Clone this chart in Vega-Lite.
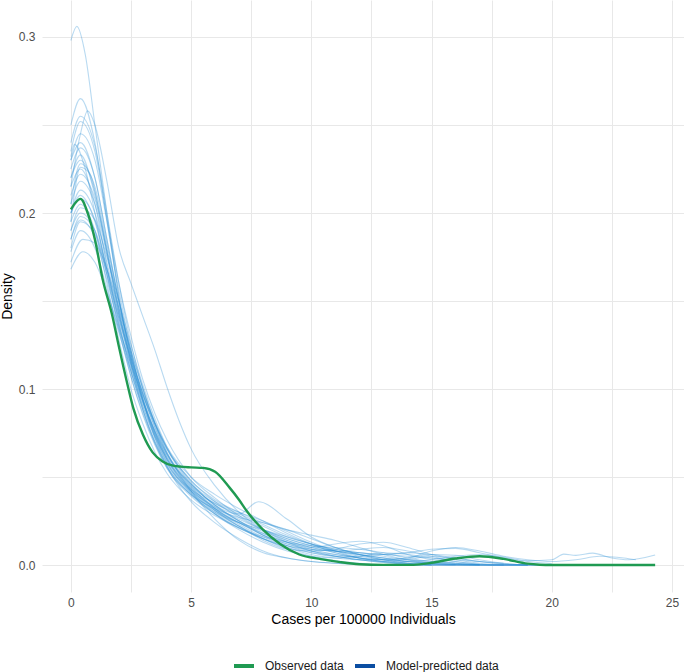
{
"$schema": "https://vega.github.io/schema/vega-lite/v6.json",
"width": 642, "height": 592,
"autosize": {"type": "none"},
"padding": {"left": 42, "top": 0, "right": 0, "bottom": 80},
"background": "white",
"config": {"font": "Liberation Sans", "view": {"stroke": null},
 "axis": {"domain": false, "ticks": false, "gridColor": "#e8e8e8", "gridWidth": 1, "labelColor": "#4d4d4d", "labelFontSize": 12, "titleFontSize": 14, "titleFontWeight": "normal", "titleColor": "#000000", "labelOverlap": false, "labelFlush": false}},
"datasets": {
"yrep": [
{"s":1,"x":0,"y":0.298},{"s":1,"x":0.25,"y":0.306},{"s":1,"x":0.6,"y":0.29},{"s":1,"x":1,"y":0.25},{"s":1,"x":1.5,"y":0.2},{"s":1,"x":2,"y":0.152},{"s":1,"x":2.5,"y":0.115},{"s":1,"x":3,"y":0.088},{"s":1,"x":3.5,"y":0.069},{"s":1,"x":4,"y":0.055},{"s":1,"x":5,"y":0.039},{"s":1,"x":6,"y":0.029},{"s":1,"x":7,"y":0.021},{"s":1,"x":8,"y":0.015},{"s":1,"x":9,"y":0.01},{"s":1,"x":10,"y":0.007},{"s":1,"x":11,"y":0.005},{"s":1,"x":12,"y":0.003},{"s":1,"x":13,"y":0.0015},{"s":1,"x":14,"y":0.0005},{"s":1,"x":15,"y":0.0001},
{"s":2,"x":0,"y":0.25},{"s":2,"x":0.4,"y":0.265},{"s":2,"x":1,"y":0.24},{"s":2,"x":1.5,"y":0.196},{"s":2,"x":2,"y":0.153},{"s":2,"x":2.5,"y":0.118},{"s":2,"x":3,"y":0.093},{"s":2,"x":3.5,"y":0.073},{"s":2,"x":4,"y":0.058},{"s":2,"x":5,"y":0.041},{"s":2,"x":6,"y":0.031},{"s":2,"x":7,"y":0.024},{"s":2,"x":8,"y":0.017},{"s":2,"x":9,"y":0.012},{"s":2,"x":10,"y":0.009},{"s":2,"x":11,"y":0.008},{"s":2,"x":12,"y":0.007},{"s":2,"x":13,"y":0.005},{"s":2,"x":14,"y":0.003},{"s":2,"x":15,"y":0.0015},{"s":2,"x":16,"y":0.0005},{"s":2,"x":17,"y":0.0001},
{"s":3,"x":0,"y":0.215},{"s":3,"x":0.4,"y":0.245},{"s":3,"x":0.7,"y":0.258},{"s":3,"x":1,"y":0.25},{"s":3,"x":1.5,"y":0.218},{"s":3,"x":2,"y":0.18},{"s":3,"x":2.5,"y":0.16},{"s":3,"x":3,"y":0.141},{"s":3,"x":3.5,"y":0.122},{"s":3,"x":4,"y":0.101},{"s":3,"x":4.5,"y":0.082},{"s":3,"x":5,"y":0.066},{"s":3,"x":6,"y":0.045},{"s":3,"x":7,"y":0.03},{"s":3,"x":8,"y":0.02},{"s":3,"x":9,"y":0.013},{"s":3,"x":10,"y":0.008},{"s":3,"x":11,"y":0.005},{"s":3,"x":12,"y":0.003},{"s":3,"x":13,"y":0.0015},{"s":3,"x":14,"y":0.0005},
{"s":4,"x":0,"y":0.235},{"s":4,"x":0.4,"y":0.252},{"s":4,"x":1,"y":0.235},{"s":4,"x":1.5,"y":0.197},{"s":4,"x":2,"y":0.16},{"s":4,"x":2.5,"y":0.13},{"s":4,"x":3,"y":0.105},{"s":4,"x":3.5,"y":0.086},{"s":4,"x":4,"y":0.071},{"s":4,"x":5,"y":0.05},{"s":4,"x":6,"y":0.038},{"s":4,"x":7,"y":0.028},{"s":4,"x":8,"y":0.02},{"s":4,"x":9,"y":0.014},{"s":4,"x":10,"y":0.01},{"s":4,"x":11,"y":0.008},{"s":4,"x":12,"y":0.006},{"s":4,"x":13,"y":0.004},{"s":4,"x":14,"y":0.003},{"s":4,"x":15,"y":0.002},{"s":4,"x":16,"y":0.001},{"s":4,"x":17,"y":0.0003},
{"s":5,"x":0,"y":0.23},{"s":5,"x":0.4,"y":0.24},{"s":5,"x":1,"y":0.22},{"s":5,"x":1.5,"y":0.185},{"s":5,"x":2,"y":0.15},{"s":5,"x":2.5,"y":0.122},{"s":5,"x":3,"y":0.1},{"s":5,"x":3.5,"y":0.081},{"s":5,"x":4,"y":0.066},{"s":5,"x":5,"y":0.046},{"s":5,"x":6,"y":0.034},{"s":5,"x":7,"y":0.025},{"s":5,"x":8,"y":0.018},{"s":5,"x":9,"y":0.013},{"s":5,"x":10,"y":0.01},{"s":5,"x":11,"y":0.012},{"s":5,"x":12,"y":0.0135},{"s":5,"x":13,"y":0.011},{"s":5,"x":14,"y":0.006},{"s":5,"x":15,"y":0.003},{"s":5,"x":16,"y":0.001},{"s":5,"x":17,"y":0.0002},{"s":5,"x":18,"y":0},
{"s":6,"x":0,"y":0.22},{"s":6,"x":0.4,"y":0.233},{"s":6,"x":1,"y":0.21},{"s":6,"x":1.5,"y":0.178},{"s":6,"x":2,"y":0.145},{"s":6,"x":2.5,"y":0.115},{"s":6,"x":3,"y":0.092},{"s":6,"x":3.5,"y":0.074},{"s":6,"x":4,"y":0.06},{"s":6,"x":5,"y":0.042},{"s":6,"x":6,"y":0.03},{"s":6,"x":7,"y":0.022},{"s":6,"x":8,"y":0.015},{"s":6,"x":9,"y":0.009},{"s":6,"x":10,"y":0.005},{"s":6,"x":11,"y":0.0025},{"s":6,"x":12,"y":0.001},{"s":6,"x":13,"y":0.0002},{"s":6,"x":14,"y":0},{"s":6,"x":16,"y":0},{"s":6,"x":18,"y":0},{"s":6,"x":20,"y":0.0002},
{"s":7,"x":0,"y":0.205},{"s":7,"x":0.4,"y":0.228},{"s":7,"x":1,"y":0.215},{"s":7,"x":1.5,"y":0.182},{"s":7,"x":2,"y":0.15},{"s":7,"x":2.5,"y":0.12},{"s":7,"x":3,"y":0.097},{"s":7,"x":3.5,"y":0.078},{"s":7,"x":4,"y":0.063},{"s":7,"x":5,"y":0.045},{"s":7,"x":6,"y":0.035},{"s":7,"x":7,"y":0.028},{"s":7,"x":8,"y":0.022},{"s":7,"x":9,"y":0.016},{"s":7,"x":10,"y":0.012},{"s":7,"x":11,"y":0.009},{"s":7,"x":12,"y":0.007},{"s":7,"x":13,"y":0.006},{"s":7,"x":14,"y":0.007},{"s":7,"x":15,"y":0.009},{"s":7,"x":16,"y":0.0095},{"s":7,"x":17,"y":0.007},{"s":7,"x":18,"y":0.004},{"s":7,"x":19,"y":0.002},{"s":7,"x":20,"y":0.0008},
{"s":8,"x":0,"y":0.215},{"s":8,"x":0.4,"y":0.225},{"s":8,"x":1,"y":0.205},{"s":8,"x":1.5,"y":0.17},{"s":8,"x":2,"y":0.138},{"s":8,"x":2.5,"y":0.11},{"s":8,"x":3,"y":0.088},{"s":8,"x":3.5,"y":0.07},{"s":8,"x":4,"y":0.056},{"s":8,"x":5,"y":0.04},{"s":8,"x":6,"y":0.03},{"s":8,"x":7,"y":0.024},{"s":8,"x":8,"y":0.02},{"s":8,"x":9,"y":0.016},{"s":8,"x":10,"y":0.012},{"s":8,"x":11,"y":0.008},{"s":8,"x":12,"y":0.005},{"s":8,"x":13,"y":0.003},{"s":8,"x":14,"y":0.002},{"s":8,"x":15,"y":0.003},{"s":8,"x":16,"y":0.005},{"s":8,"x":17,"y":0.006},{"s":8,"x":18,"y":0.0045},{"s":8,"x":19,"y":0.0025},{"s":8,"x":20,"y":0.003},{"s":8,"x":20.5,"y":0.0062},{"s":8,"x":21,"y":0.0055},{"s":8,"x":21.7,"y":0.0068},{"s":8,"x":22.5,"y":0.004},{"s":8,"x":23.2,"y":0.003},{"s":8,"x":24.3,"y":0.0057},
{"s":9,"x":0,"y":0.2},{"s":9,"x":0.4,"y":0.21},{"s":9,"x":1,"y":0.195},{"s":9,"x":1.5,"y":0.168},{"s":9,"x":2,"y":0.14},{"s":9,"x":2.5,"y":0.114},{"s":9,"x":3,"y":0.093},{"s":9,"x":3.5,"y":0.075},{"s":9,"x":4,"y":0.061},{"s":9,"x":5,"y":0.044},{"s":9,"x":6,"y":0.033},{"s":9,"x":7,"y":0.025},{"s":9,"x":8,"y":0.019},{"s":9,"x":9,"y":0.014},{"s":9,"x":10,"y":0.01},{"s":9,"x":11,"y":0.007},{"s":9,"x":12,"y":0.004},{"s":9,"x":13,"y":0.002},{"s":9,"x":14,"y":0.001},{"s":9,"x":15,"y":0.0005},{"s":9,"x":16,"y":0.0002},{"s":9,"x":17,"y":0},{"s":9,"x":19,"y":0},
{"s":10,"x":0,"y":0.19},{"s":10,"x":0.4,"y":0.2},{"s":10,"x":1,"y":0.19},{"s":10,"x":1.5,"y":0.165},{"s":10,"x":2,"y":0.135},{"s":10,"x":2.5,"y":0.107},{"s":10,"x":3,"y":0.085},{"s":10,"x":3.5,"y":0.068},{"s":10,"x":4,"y":0.055},{"s":10,"x":5,"y":0.04},{"s":10,"x":6,"y":0.032},{"s":10,"x":7,"y":0.027},{"s":10,"x":8,"y":0.024},{"s":10,"x":9,"y":0.02},{"s":10,"x":10,"y":0.015},{"s":10,"x":11,"y":0.01},{"s":10,"x":12,"y":0.006},{"s":10,"x":13,"y":0.003},{"s":10,"x":14,"y":0.001},{"s":10,"x":15,"y":0},{"s":10,"x":19.5,"y":0},
{"s":11,"x":0,"y":0.185},{"s":11,"x":0.4,"y":0.196},{"s":11,"x":1,"y":0.186},{"s":11,"x":1.5,"y":0.162},{"s":11,"x":2,"y":0.136},{"s":11,"x":2.5,"y":0.112},{"s":11,"x":3,"y":0.092},{"s":11,"x":3.5,"y":0.076},{"s":11,"x":4,"y":0.063},{"s":11,"x":5,"y":0.046},{"s":11,"x":6,"y":0.034},{"s":11,"x":7,"y":0.025},{"s":11,"x":8,"y":0.017},{"s":11,"x":9,"y":0.011},{"s":11,"x":10,"y":0.007},{"s":11,"x":11,"y":0.005},{"s":11,"x":12,"y":0.005},{"s":11,"x":13,"y":0.006},{"s":11,"x":14,"y":0.007},{"s":11,"x":15,"y":0.006},{"s":11,"x":16,"y":0.004},{"s":11,"x":17,"y":0.002},{"s":11,"x":18,"y":0.0008},{"s":11,"x":19,"y":0},
{"s":12,"x":0,"y":0.178},{"s":12,"x":0.4,"y":0.19},{"s":12,"x":1,"y":0.18},{"s":12,"x":1.5,"y":0.157},{"s":12,"x":2,"y":0.132},{"s":12,"x":2.5,"y":0.11},{"s":12,"x":3,"y":0.09},{"s":12,"x":3.5,"y":0.073},{"s":12,"x":4,"y":0.06},{"s":12,"x":5,"y":0.043},{"s":12,"x":6,"y":0.032},{"s":12,"x":7,"y":0.024},{"s":12,"x":8,"y":0.018},{"s":12,"x":9,"y":0.013},{"s":12,"x":10,"y":0.009},{"s":12,"x":11,"y":0.006},{"s":12,"x":12,"y":0.004},{"s":12,"x":13,"y":0.003},{"s":12,"x":14,"y":0.002},{"s":12,"x":15,"y":0.001},{"s":12,"x":16,"y":0.0003},
{"s":13,"x":0,"y":0.168},{"s":13,"x":0.5,"y":0.178},{"s":13,"x":1,"y":0.172},{"s":13,"x":1.5,"y":0.155},{"s":13,"x":2,"y":0.134},{"s":13,"x":2.5,"y":0.114},{"s":13,"x":3,"y":0.096},{"s":13,"x":3.5,"y":0.08},{"s":13,"x":4,"y":0.066},{"s":13,"x":5,"y":0.048},{"s":13,"x":6,"y":0.036},{"s":13,"x":7,"y":0.027},{"s":13,"x":8,"y":0.02},{"s":13,"x":9,"y":0.015},{"s":13,"x":10,"y":0.011},{"s":13,"x":11,"y":0.008},{"s":13,"x":12,"y":0.006},{"s":13,"x":13,"y":0.004},{"s":13,"x":14,"y":0.002},{"s":13,"x":15,"y":0.001},
{"s":14,"x":0,"y":0.195},{"s":14,"x":0.4,"y":0.205},{"s":14,"x":1,"y":0.19},{"s":14,"x":1.5,"y":0.16},{"s":14,"x":2,"y":0.128},{"s":14,"x":2.5,"y":0.1},{"s":14,"x":3,"y":0.08},{"s":14,"x":3.5,"y":0.064},{"s":14,"x":4,"y":0.052},{"s":14,"x":5,"y":0.037},{"s":14,"x":6,"y":0.028},{"s":14,"x":7,"y":0.021},{"s":14,"x":8,"y":0.016},{"s":14,"x":9,"y":0.013},{"s":14,"x":10,"y":0.011},{"s":14,"x":11,"y":0.01},{"s":14,"x":12,"y":0.009},{"s":14,"x":13,"y":0.007},{"s":14,"x":14,"y":0.004},{"s":14,"x":15,"y":0.002},{"s":14,"x":16,"y":0.001},{"s":14,"x":17,"y":0},
{"s":15,"x":0,"y":0.225},{"s":15,"x":0.4,"y":0.237},{"s":15,"x":1,"y":0.22},{"s":15,"x":1.5,"y":0.185},{"s":15,"x":2,"y":0.15},{"s":15,"x":2.5,"y":0.12},{"s":15,"x":3,"y":0.095},{"s":15,"x":3.5,"y":0.075},{"s":15,"x":4,"y":0.06},{"s":15,"x":5,"y":0.042},{"s":15,"x":6,"y":0.031},{"s":15,"x":7,"y":0.022},{"s":15,"x":8,"y":0.015},{"s":15,"x":9,"y":0.01},{"s":15,"x":10,"y":0.006},{"s":15,"x":11,"y":0.004},{"s":15,"x":12,"y":0.003},{"s":15,"x":13,"y":0.003},{"s":15,"x":14,"y":0.004},{"s":15,"x":15,"y":0.006},{"s":15,"x":16,"y":0.0055},{"s":15,"x":17,"y":0.003},{"s":15,"x":18,"y":0.001},{"s":15,"x":19,"y":0},
{"s":16,"x":0,"y":0.21},{"s":16,"x":0.4,"y":0.222},{"s":16,"x":1,"y":0.208},{"s":16,"x":1.5,"y":0.178},{"s":16,"x":2,"y":0.146},{"s":16,"x":2.5,"y":0.118},{"s":16,"x":3,"y":0.094},{"s":16,"x":3.5,"y":0.076},{"s":16,"x":4,"y":0.062},{"s":16,"x":5,"y":0.046},{"s":16,"x":6,"y":0.036},{"s":16,"x":7,"y":0.03},{"s":16,"x":8,"y":0.025},{"s":16,"x":9,"y":0.019},{"s":16,"x":10,"y":0.013},{"s":16,"x":11,"y":0.008},{"s":16,"x":12,"y":0.004},{"s":16,"x":13,"y":0.002},{"s":16,"x":14,"y":0.0005},{"s":16,"x":15,"y":0},{"s":16,"x":16,"y":0},
{"s":17,"x":0,"y":0.24},{"s":17,"x":0.4,"y":0.255},{"s":17,"x":1,"y":0.238},{"s":17,"x":1.5,"y":0.2},{"s":17,"x":2,"y":0.16},{"s":17,"x":2.5,"y":0.126},{"s":17,"x":3,"y":0.1},{"s":17,"x":3.5,"y":0.08},{"s":17,"x":4,"y":0.064},{"s":17,"x":5,"y":0.045},{"s":17,"x":6,"y":0.032},{"s":17,"x":7,"y":0.023},{"s":17,"x":8,"y":0.016},{"s":17,"x":9,"y":0.011},{"s":17,"x":10,"y":0.008},{"s":17,"x":11,"y":0.006},{"s":17,"x":12,"y":0.004},{"s":17,"x":13,"y":0.002},{"s":17,"x":14,"y":0.001},{"s":17,"x":15,"y":0.0005},{"s":17,"x":16,"y":0},{"s":17,"x":20,"y":0},
{"s":18,"x":0,"y":0.18},{"s":18,"x":0.4,"y":0.195},{"s":18,"x":1,"y":0.188},{"s":18,"x":1.5,"y":0.165},{"s":18,"x":2,"y":0.14},{"s":18,"x":2.5,"y":0.117},{"s":18,"x":3,"y":0.097},{"s":18,"x":3.5,"y":0.08},{"s":18,"x":4,"y":0.066},{"s":18,"x":5,"y":0.047},{"s":18,"x":6,"y":0.034},{"s":18,"x":7,"y":0.029},{"s":18,"x":7.8,"y":0.036},{"s":18,"x":9,"y":0.026},{"s":18,"x":10,"y":0.016},{"s":18,"x":11,"y":0.01},{"s":18,"x":12,"y":0.006},{"s":18,"x":13,"y":0.003},{"s":18,"x":14,"y":0.001},{"s":18,"x":15,"y":0},
{"s":19,"x":0,"y":0.2},{"s":19,"x":0.4,"y":0.213},{"s":19,"x":1,"y":0.2},{"s":19,"x":1.5,"y":0.172},{"s":19,"x":2,"y":0.142},{"s":19,"x":2.5,"y":0.116},{"s":19,"x":3,"y":0.094},{"s":19,"x":3.5,"y":0.076},{"s":19,"x":4,"y":0.061},{"s":19,"x":5,"y":0.043},{"s":19,"x":6,"y":0.031},{"s":19,"x":7,"y":0.022},{"s":19,"x":8,"y":0.014},{"s":19,"x":9,"y":0.009},{"s":19,"x":10,"y":0.008},{"s":19,"x":11,"y":0.009},{"s":19,"x":12,"y":0.012},{"s":19,"x":13,"y":0.013},{"s":19,"x":14,"y":0.01},{"s":19,"x":15,"y":0.006},{"s":19,"x":16,"y":0.003},{"s":19,"x":17,"y":0.001},{"s":19,"x":18,"y":0},
{"s":20,"x":0,"y":0.19},{"s":20,"x":0.4,"y":0.203},{"s":20,"x":1,"y":0.196},{"s":20,"x":1.5,"y":0.175},{"s":20,"x":2,"y":0.15},{"s":20,"x":2.5,"y":0.125},{"s":20,"x":3,"y":0.102},{"s":20,"x":3.5,"y":0.083},{"s":20,"x":4,"y":0.067},{"s":20,"x":5,"y":0.048},{"s":20,"x":6,"y":0.037},{"s":20,"x":7,"y":0.03},{"s":20,"x":8,"y":0.024},{"s":20,"x":9,"y":0.02},{"s":20,"x":10,"y":0.017},{"s":20,"x":11,"y":0.014},{"s":20,"x":12,"y":0.01},{"s":20,"x":13,"y":0.006},{"s":20,"x":14,"y":0.003},{"s":20,"x":15,"y":0.001},{"s":20,"x":16,"y":0.0003},{"s":20,"x":17,"y":0},
{"s":21,"x":0,"y":0.23},{"s":21,"x":0.4,"y":0.245},{"s":21,"x":1,"y":0.23},{"s":21,"x":1.5,"y":0.195},{"s":21,"x":2,"y":0.156},{"s":21,"x":2.5,"y":0.122},{"s":21,"x":3,"y":0.094},{"s":21,"x":3.5,"y":0.072},{"s":21,"x":4,"y":0.056},{"s":21,"x":5,"y":0.036},{"s":21,"x":6,"y":0.024},{"s":21,"x":7,"y":0.015},{"s":21,"x":8,"y":0.008},{"s":21,"x":9,"y":0.004},{"s":21,"x":10,"y":0.002},{"s":21,"x":11,"y":0.001},{"s":21,"x":12,"y":0.0003},{"s":21,"x":13,"y":0},{"s":21,"x":20,"y":0},
{"s":22,"x":0,"y":0.185},{"s":22,"x":0.4,"y":0.198},{"s":22,"x":1,"y":0.19},{"s":22,"x":1.5,"y":0.168},{"s":22,"x":2,"y":0.142},{"s":22,"x":2.5,"y":0.118},{"s":22,"x":3,"y":0.098},{"s":22,"x":3.5,"y":0.081},{"s":22,"x":4,"y":0.067},{"s":22,"x":5,"y":0.05},{"s":22,"x":6,"y":0.04},{"s":22,"x":7,"y":0.032},{"s":22,"x":8,"y":0.025},{"s":22,"x":9,"y":0.018},{"s":22,"x":10,"y":0.012},{"s":22,"x":11,"y":0.007},{"s":22,"x":12,"y":0.004},{"s":22,"x":13,"y":0.003},{"s":22,"x":14,"y":0.004},{"s":22,"x":15,"y":0.008},{"s":22,"x":16,"y":0.01},{"s":22,"x":17,"y":0.008},{"s":22,"x":18,"y":0.005},{"s":22,"x":19,"y":0.003},{"s":22,"x":20,"y":0.002},{"s":22,"x":21,"y":0.003},{"s":22,"x":22,"y":0.005},{"s":22,"x":23,"y":0.004},{"s":22,"x":23.5,"y":0.003},
{"s":23,"x":0,"y":0.205},{"s":23,"x":0.4,"y":0.218},{"s":23,"x":1,"y":0.205},{"s":23,"x":1.5,"y":0.176},{"s":23,"x":2,"y":0.144},{"s":23,"x":2.5,"y":0.116},{"s":23,"x":3,"y":0.093},{"s":23,"x":3.5,"y":0.074},{"s":23,"x":4,"y":0.059},{"s":23,"x":5,"y":0.041},{"s":23,"x":6,"y":0.029},{"s":23,"x":7,"y":0.02},{"s":23,"x":8,"y":0.013},{"s":23,"x":9,"y":0.008},{"s":23,"x":10,"y":0.005},{"s":23,"x":11,"y":0.004},{"s":23,"x":12,"y":0.005},{"s":23,"x":13,"y":0.007},{"s":23,"x":14,"y":0.006},{"s":23,"x":15,"y":0.004},{"s":23,"x":16,"y":0.002},{"s":23,"x":17,"y":0.0005},{"s":23,"x":18,"y":0},{"s":23,"x":19,"y":0},{"s":23,"x":20,"y":0.0002},
{"s":24,"x":0,"y":0.2},{"s":24,"x":0.4,"y":0.208},{"s":24,"x":1,"y":0.196},{"s":24,"x":1.5,"y":0.168},{"s":24,"x":2,"y":0.137},{"s":24,"x":2.5,"y":0.11},{"s":24,"x":3,"y":0.088},{"s":24,"x":3.5,"y":0.07},{"s":24,"x":4,"y":0.057},{"s":24,"x":5,"y":0.042},{"s":24,"x":6,"y":0.033},{"s":24,"x":7,"y":0.026},{"s":24,"x":8,"y":0.02},{"s":24,"x":9,"y":0.015},{"s":24,"x":10,"y":0.011},{"s":24,"x":11,"y":0.008},{"s":24,"x":12,"y":0.006},{"s":24,"x":13,"y":0.004},{"s":24,"x":14,"y":0.002},{"s":24,"x":15,"y":0.001},{"s":24,"x":16,"y":0.0005},{"s":24,"x":17,"y":0.0002},{"s":24,"x":18,"y":0},{"s":24,"x":19,"y":0},
{"s":25,"x":0,"y":0.172},{"s":25,"x":0.5,"y":0.185},{"s":25,"x":1,"y":0.183},{"s":25,"x":1.5,"y":0.168},{"s":25,"x":2,"y":0.146},{"s":25,"x":2.5,"y":0.122},{"s":25,"x":3,"y":0.1},{"s":25,"x":3.5,"y":0.08},{"s":25,"x":4,"y":0.064},{"s":25,"x":5,"y":0.042},{"s":25,"x":6,"y":0.026},{"s":25,"x":7,"y":0.014},{"s":25,"x":8,"y":0.007},{"s":25,"x":9,"y":0.004},{"s":25,"x":10,"y":0.002},{"s":25,"x":11,"y":0.001},{"s":25,"x":12,"y":0.0005},{"s":25,"x":13,"y":0},
{"s":26,"x":0,"y":0.22},{"s":26,"x":0.4,"y":0.23},{"s":26,"x":1,"y":0.212},{"s":26,"x":1.5,"y":0.178},{"s":26,"x":2,"y":0.143},{"s":26,"x":2.5,"y":0.113},{"s":26,"x":3,"y":0.09},{"s":26,"x":3.5,"y":0.072},{"s":26,"x":4,"y":0.058},{"s":26,"x":5,"y":0.043},{"s":26,"x":6,"y":0.035},{"s":26,"x":7,"y":0.029},{"s":26,"x":8,"y":0.023},{"s":26,"x":9,"y":0.017},{"s":26,"x":10,"y":0.012},{"s":26,"x":11,"y":0.009},{"s":26,"x":12,"y":0.007},{"s":26,"x":13,"y":0.006},{"s":26,"x":14,"y":0.005},{"s":26,"x":15,"y":0.004},{"s":26,"x":16,"y":0.003},{"s":26,"x":17,"y":0.002},{"s":26,"x":18,"y":0.001},
{"s":27,"x":0,"y":0.232},{"s":27,"x":0.15,"y":0.239},{"s":27,"x":0.6,"y":0.225},{"s":27,"x":1,"y":0.2},{"s":27,"x":1.5,"y":0.165},{"s":27,"x":2,"y":0.133},{"s":27,"x":2.5,"y":0.107},{"s":27,"x":3,"y":0.086},{"s":27,"x":3.5,"y":0.069},{"s":27,"x":4,"y":0.056},{"s":27,"x":5,"y":0.04},{"s":27,"x":6,"y":0.029},{"s":27,"x":7,"y":0.021},{"s":27,"x":8,"y":0.015},{"s":27,"x":9,"y":0.011},{"s":27,"x":10,"y":0.009},{"s":27,"x":11,"y":0.008},{"s":27,"x":12,"y":0.009},{"s":27,"x":13,"y":0.01},{"s":27,"x":14,"y":0.008},{"s":27,"x":15,"y":0.005},{"s":27,"x":16,"y":0.002},{"s":27,"x":17,"y":0.0005},
{"s":28,"x":0,"y":0.195},{"s":28,"x":0.4,"y":0.226},{"s":28,"x":0.8,"y":0.222},{"s":28,"x":1.2,"y":0.2},{"s":28,"x":1.5,"y":0.18},{"s":28,"x":2,"y":0.148},{"s":28,"x":2.5,"y":0.12},{"s":28,"x":3,"y":0.097},{"s":28,"x":3.5,"y":0.078},{"s":28,"x":4,"y":0.063},{"s":28,"x":5,"y":0.044},{"s":28,"x":6,"y":0.032},{"s":28,"x":7,"y":0.024},{"s":28,"x":8,"y":0.017},{"s":28,"x":9,"y":0.012},{"s":28,"x":10,"y":0.008},{"s":28,"x":11,"y":0.005},{"s":28,"x":12,"y":0.003},{"s":28,"x":13,"y":0.002},{"s":28,"x":14,"y":0.003},{"s":28,"x":15,"y":0.005},{"s":28,"x":16,"y":0.004},{"s":28,"x":17,"y":0.002},{"s":28,"x":18,"y":0.0005},{"s":28,"x":19,"y":0}
],
"yobs": [
{"x":0,"y":0.202},{"x":0.2,"y":0.206},{"x":0.4,"y":0.208},{"x":0.7,"y":0.2},{"x":1,"y":0.185},{"x":1.33,"y":0.162},{"x":1.7,"y":0.143},{"x":2,"y":0.124},{"x":2.33,"y":0.104},{"x":2.6,"y":0.089},{"x":3,"y":0.074},{"x":3.4,"y":0.064},{"x":3.8,"y":0.059},{"x":4.25,"y":0.0565},{"x":5,"y":0.0555},{"x":5.5,"y":0.0552},{"x":6,"y":0.053},{"x":6.6,"y":0.044},{"x":7,"y":0.037},{"x":7.3,"y":0.031},{"x":8,"y":0.02},{"x":8.7,"y":0.012},{"x":9.5,"y":0.006},{"x":10.4,"y":0.0034},{"x":11.2,"y":0.0017},{"x":12,"y":0.0005},{"x":13,"y":0.0001},{"x":14,"y":0.0001},{"x":14.5,"y":0.0004},{"x":15,"y":0.0013},{"x":16,"y":0.0037},{"x":17,"y":0.005},{"x":18,"y":0.0035},{"x":19,"y":0.0008},{"x":19.5,"y":0.0002},{"x":20,"y":0},{"x":24.3,"y":0}
]
},
"layer": [
{"data": {"name": "yrep"},
 "mark": {"type": "line", "interpolate": "monotone", "strokeWidth": 1.1, "opacity": 0.33, "stroke": "#2a8fd6"},
 "encoding": {
  "x": {"field": "x", "type": "quantitative", "scale": {"domain": [-1.2, 25.5], "nice": false, "zero": false},
        "axis": {"values": [0, 2.5, 5, 7.5, 10, 12.5, 15, 17.5, 20, 22.5, 25], "labelExpr": "datum.value % 5 === 0 ? datum.label : ''", "title": "Cases per 100000 Individuals", "labelPadding": 5, "titlePadding": 4}},
  "y": {"field": "y", "type": "quantitative", "scale": {"domain": [-0.0153, 0.321], "nice": false, "zero": false},
        "axis": {"values": [0, 0.05, 0.1, 0.15, 0.2, 0.25, 0.3], "labelExpr": "(datum.value === 0 || datum.value === 0.1 || datum.value === 0.2 || datum.value === 0.3) ? format(datum.value, '.1f') : ''", "title": "Density", "labelPadding": 7, "titlePadding": 4}},
  "detail": {"field": "s", "type": "nominal"}
 }},
{"data": {"name": "yobs"},
 "transform": [{"filter": "datum.x > 24"}],
 "mark": {"type": "line", "strokeWidth": 2.4, "strokeCap": "butt"},
 "encoding": {
  "x": {"field": "x", "type": "quantitative"},
  "y": {"field": "y", "type": "quantitative"},
  "color": {"datum": "Model-predicted data", "type": "nominal",
   "scale": {"domain": ["Observed data", "Model-predicted data"], "range": ["#1f9a52", "#0b4ea2"]},
   "legend": {"orient": "none", "legendX": 190, "legendY": 654, "direction": "horizontal", "title": null, "symbolType": "stroke", "symbolStrokeWidth": 4, "symbolSize": 400, "symbolOpacity": 1, "labelFontSize": 12, "labelColor": "#1a1a1a", "labelOffset": 9, "columnPadding": 3, "padding": 0}}
 }},
{"data": {"name": "yobs"},
 "mark": {"type": "line", "interpolate": "monotone", "strokeWidth": 2.4},
 "encoding": {
  "x": {"field": "x", "type": "quantitative"},
  "y": {"field": "y", "type": "quantitative"},
  "color": {"datum": "Observed data", "type": "nominal"}
 }}
]
}
